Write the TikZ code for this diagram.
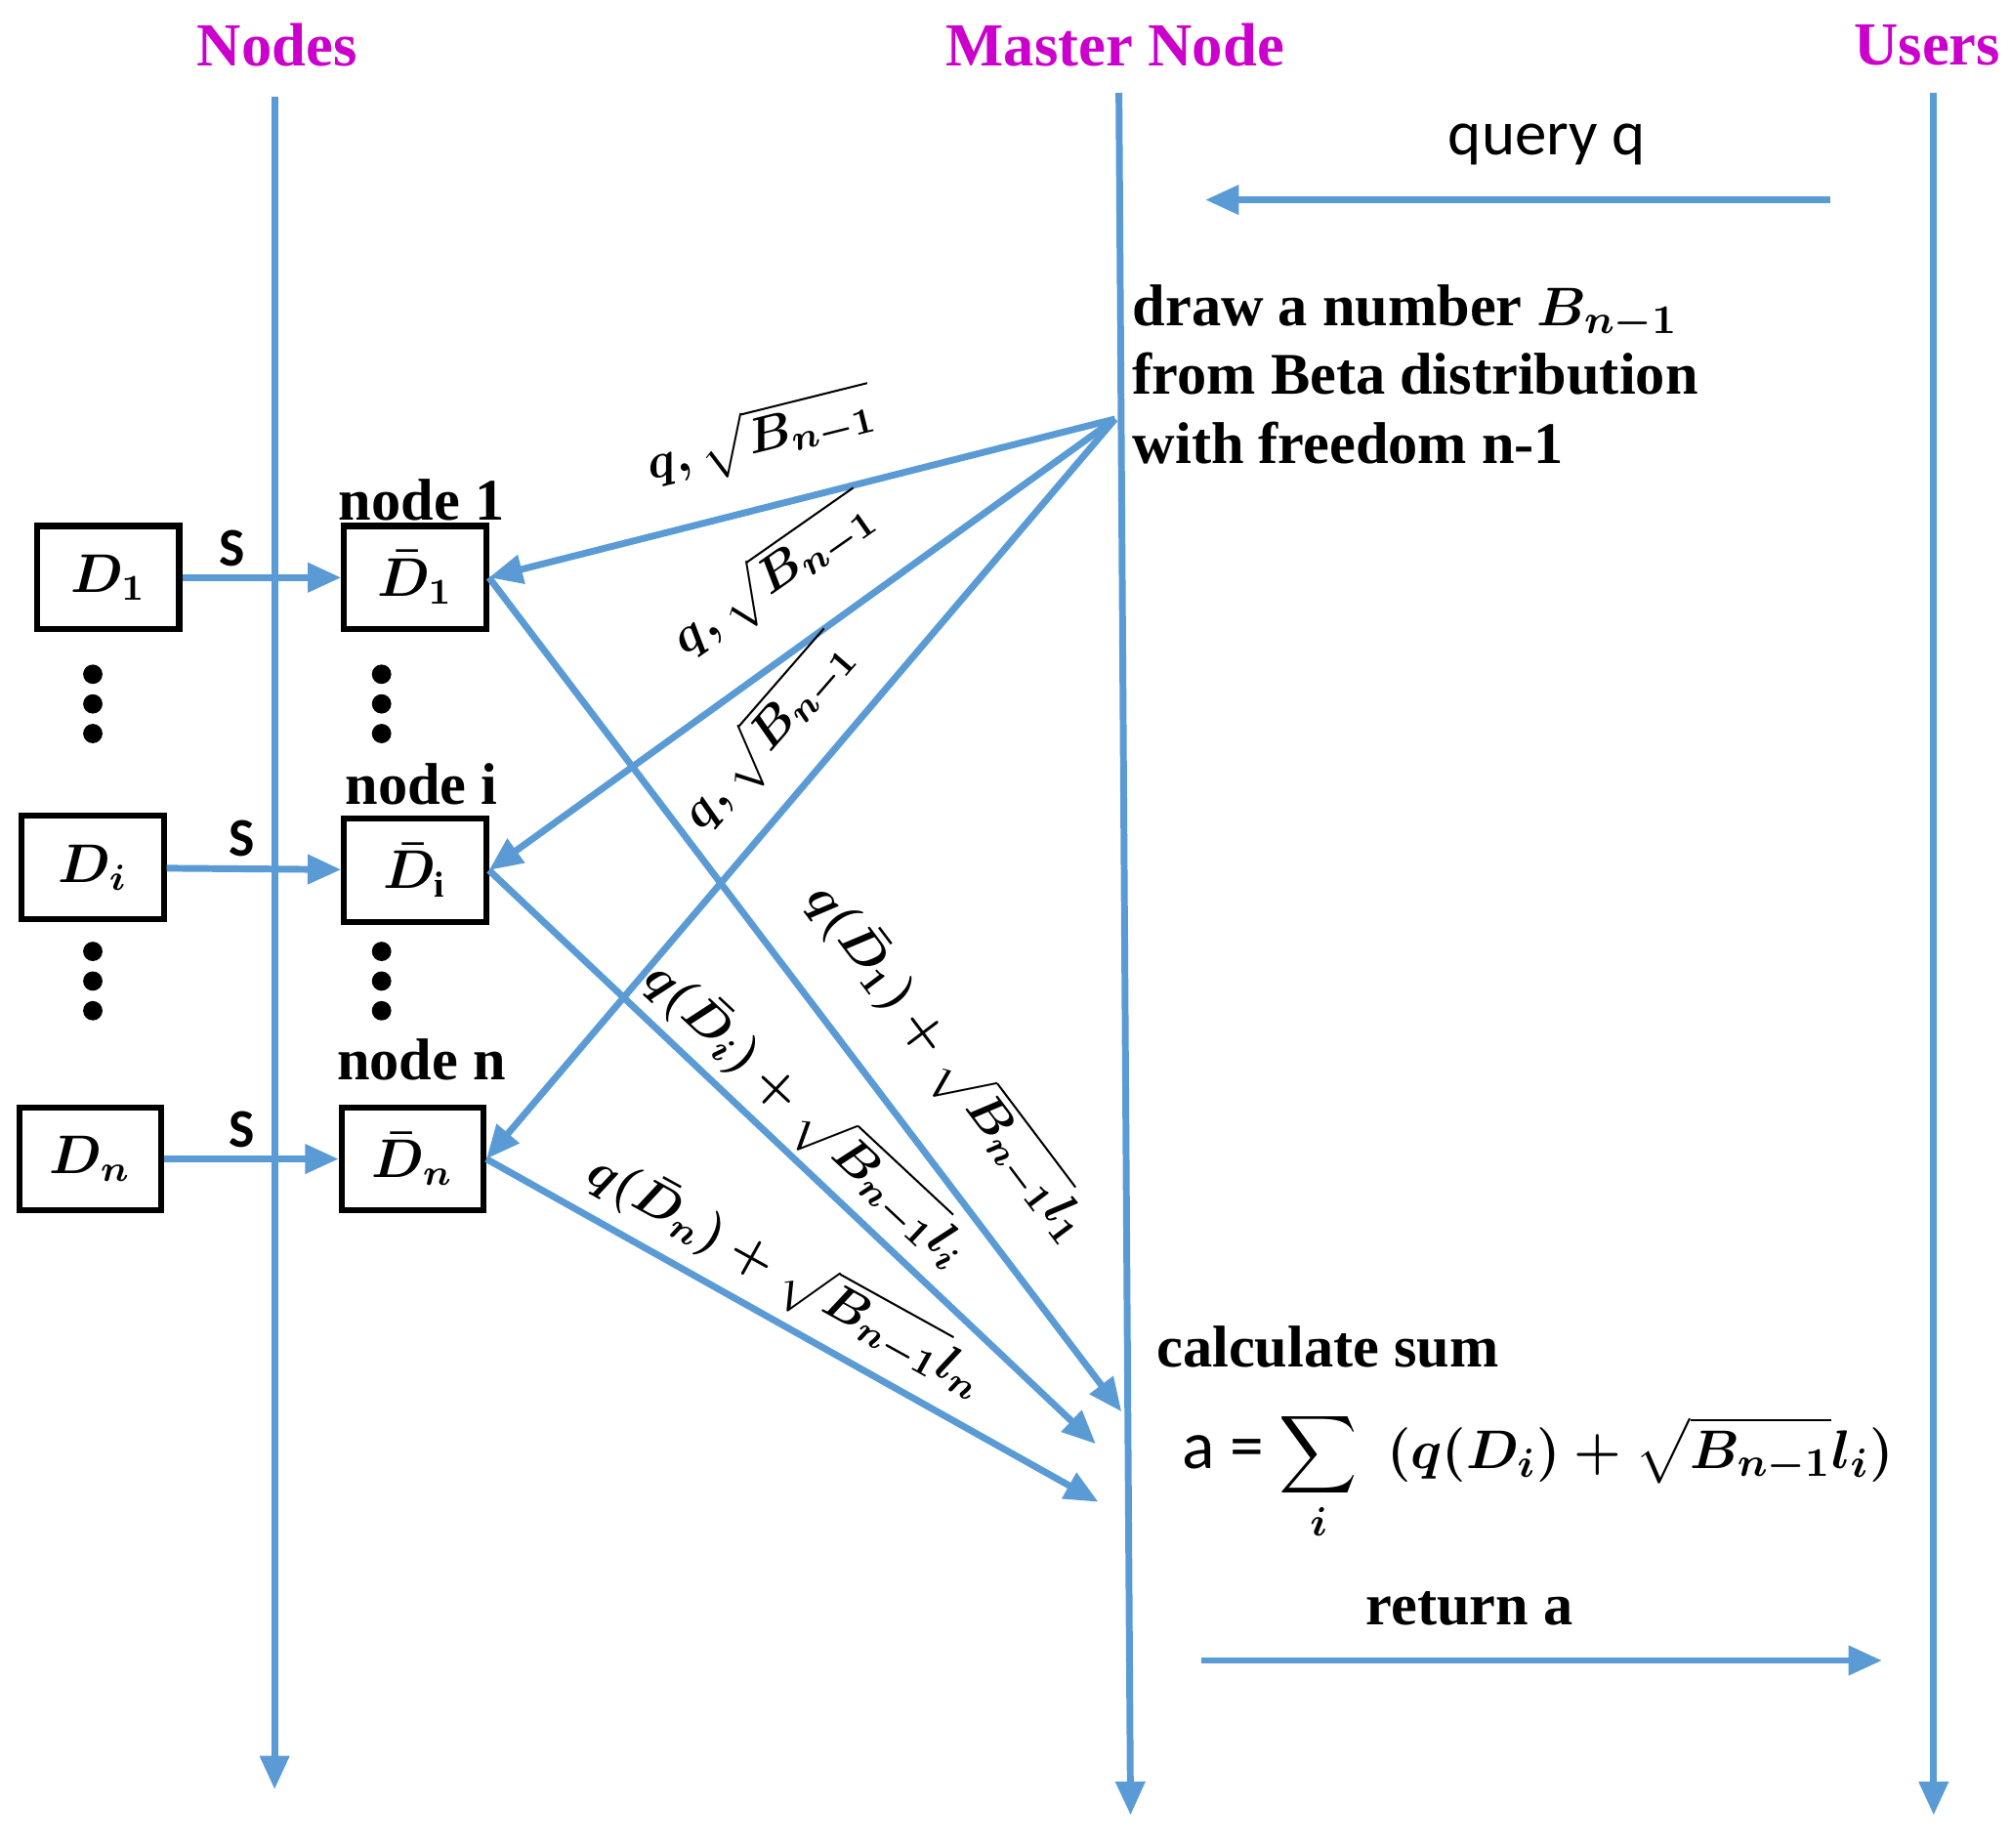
\documentclass[tikz,border=0pt]{standalone}
\usepackage{fontspec}
\usepackage{amsmath,bm}
\setmainfont{Liberation Serif}
\newfontfamily\sansf{Carlito}
\usetikzlibrary{arrows.meta}
\definecolor{ln}{RGB}{91,155,213}
\definecolor{mg}{RGB}{204,0,204}
\begin{document}
\begin{tikzpicture}[x=0.01cm,y=-0.01cm,
  ar/.style={draw=ln,line width=1.5pt,-{Triangle[length=0.26cm,width=0.22cm]}},
  box/.style={draw,line width=1.3pt,minimum width=1.1cm,minimum height=0.8cm,inner sep=0pt,font=\large\boldmath},
  ttl/.style={text=mg,font=\bfseries\fontsize{13.5}{15}\selectfont},
  lab/.style={font=\bfseries\boldmath\fontsize{11}{13}\selectfont},
  dot/.style={circle,fill,inner sep=0pt,minimum size=0.15cm}]
\useasboundingbox (0,0) rectangle (1560,1433);
\node[ttl] (t1) at (215,35) {Nodes};
\node[ttl] (t2) at (865,35) {Master Node};
\node[ttl] (t3) at (1495,35) {Users};
\coordinate (a1) at (213,75); \coordinate (a2) at (213,1388);
\coordinate (b1) at (868,72); \coordinate (b2) at (877,1408);
\coordinate (c1) at (1500,72); \coordinate (c2) at (1500,1408);
\draw[ar] (a1) -- (a2);
\draw[ar] (b1) -- (b2);
\draw[ar] (c1) -- (c2);
\coordinate (q1) at (1420,155); \coordinate (q2) at (935,155);
\draw[ar] (q1) -- (q2);
\node[font=\sansf\fontsize{14}{16}\selectfont] (ql) at (1200,112) {query q};
\node[lab,anchor=north west,align=left,inner sep=0pt,font=\bfseries\boldmath\fontsize{13}{15.2}\selectfont] (txt) at (878,220)
 {draw a number $B_{n-1}$\\from Beta distribution\\with freedom n-1};
\coordinate (M) at (865,325);
\node[box] (D1) at (84,448) {$D_1$};
\node[box] (E1) at (322,448) {$\bar D_1$};
\node[box] (Di) at (72,673) {$D_i$};
\node[box] (Ei) at (322,675) {$\bar D_{\mathrm{i}}$};
\node[box] (Dn) at (70,899) {$D_n$};
\node[box] (En) at (320,899) {$\bar D_n$};
\node[lab,font=\bfseries\fontsize{13}{15}\selectfont] (n1) at (327,388) {node 1};
\node[lab,font=\bfseries\fontsize{13}{15}\selectfont] (ni) at (327,608) {node i};
\node[lab,font=\bfseries\fontsize{13}{15}\selectfont] (nn) at (327,822) {node n};
\draw[ar] (D1) -- (E1);
\draw[ar] (Di) -- (Ei);
\draw[ar] (Dn) -- (En);
\node[font=\sansf\bfseries\large] (s1) at (180,425) {S};
\node[font=\sansf\bfseries\large] (s2) at (188,650) {S};
\node[font=\sansf\bfseries\large] (s3) at (188,876) {S};
\foreach \x in {72,296}{\foreach \y in {523,546,569,738,761,784}{\node[dot] at (\x,\y) {};}}
\draw[ar] (M) -- (E1.east);
\draw[ar] (M) -- (Ei.east);
\draw[ar] (M) -- (En.east);
\node[lab,rotate=14] (l1) at (590,340) {$q,\sqrt{B_{n-1}}$};
\node[lab,rotate=35] (l2) at (600,448) {$q,\sqrt{B_{n-1}}$};
\node[lab,rotate=49] (l3) at (596,570) {$q,\sqrt{B_{n-1}}$};
\coordinate (r1) at (870,1095); \coordinate (r2) at (850,1120); \coordinate (r3) at (852,1165);
\draw[ar] (E1.east) -- (r1);
\draw[ar] (Ei.east) -- (r2);
\draw[ar] (En.east) -- (r3);
\node[lab,rotate=-53] (m1) at (735,825) {$q(\bar D_1)+\sqrt{B_{n-1}}l_1$};
\node[lab,rotate=-43] (m2) at (625,865) {$q(\bar D_i)+\sqrt{B_{n-1}}l_i$};
\node[lab,rotate=-29] (m3) at (610,990) {$q(\bar D_n)+\sqrt{B_{n-1}}l_n$};
\node[lab,font=\bfseries\fontsize{13}{15}\selectfont] (cs) at (1030,1045) {calculate sum};
\node[font=\boldmath\fontsize{13}{15}\selectfont,anchor=west] (f) at (905,1145) {{\sansf\fontsize{15}{17}\selectfont a =} $\displaystyle\sum_{i}\ \ (q(D_i)+\sqrt{B_{n-1}}l_i)$};
\node[lab,font=\bfseries\fontsize{13}{15}\selectfont] (ra) at (1140,1248) {return a};
\coordinate (o1) at (932,1288); \coordinate (o2) at (1460,1288);
\draw[ar] (o1) -- (o2);
\end{tikzpicture}
\end{document}
